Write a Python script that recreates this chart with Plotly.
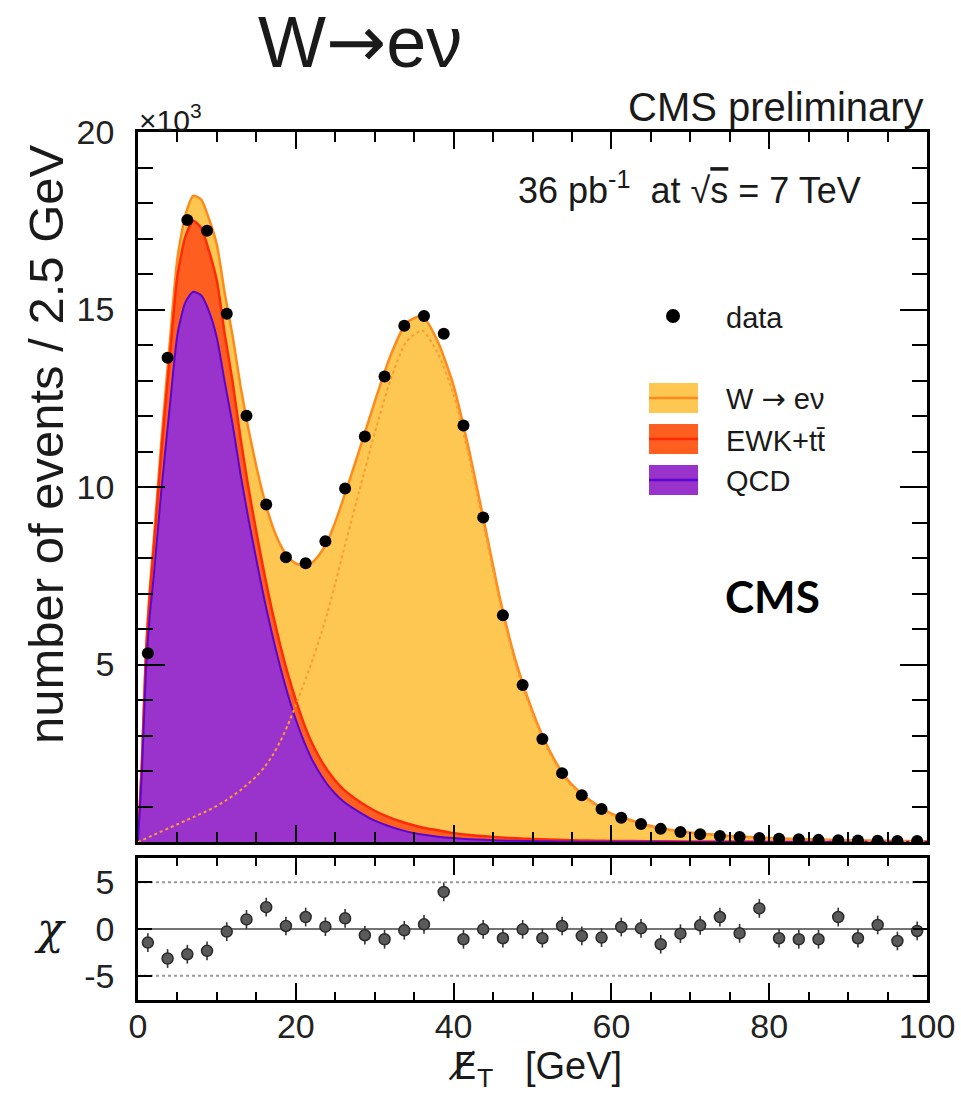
import plotly.graph_objects as go
import numpy as np

# ---------------- data (values in units of 10^3 events) ----------------
bin_centers = [1.25 + 2.5 * i for i in range(40)]
data_vals = [5.32, 13.64, 17.52, 17.22, 14.88, 12.01, 9.51, 8.02, 7.85, 8.47,
             9.96, 11.42, 13.11, 14.54, 14.82, 14.32, 11.73, 9.14, 6.39, 4.42,
             2.90, 1.94, 1.32, 0.93, 0.68, 0.51, 0.37, 0.28, 0.22, 0.17,
             0.14, 0.11, 0.09, 0.075, 0.06, 0.05, 0.04, 0.035, 0.03, 0.025]
chi_vals = [-1.45, -3.16, -2.7, -2.34, -0.28, 1.03, 2.34, 0.32, 1.28, 0.25,
            1.14, -0.67, -1.1, -0.14, 0.5, 3.97, -1.1, -0.04, -0.99, -0.04,
            -0.99, 0.32, -0.74, -0.92, 0.21, 0.07, -1.63, -0.5, 0.39, 1.28,
            -0.46, 2.2, -0.99, -1.1, -1.1, 1.28, -0.99, 0.43, -1.28, -0.21]

curve_x = [0, 0.5, 1, 1.5, 2, 3, 4, 5, 6, 7, 8, 9, 10, 11, 12, 13, 14, 15, 16, 17,
           18, 19, 20, 21, 22, 23, 24, 25, 26, 28, 30, 32, 34, 36, 38, 40, 42, 44,
           46, 48, 50, 52, 54, 56, 58, 60, 65, 70, 75, 80, 85, 90, 95, 100]
qcd = [0, 2.0, 4.8, 6.4, 7.5, 10.0, 12.2, 14.3, 15.2, 15.5, 15.4, 14.95, 14.2, 12.95,
       11.75, 10.35, 9.1, 7.95, 6.85, 5.85, 4.95, 4.15, 3.45, 2.85, 2.35, 1.95, 1.62,
       1.36, 1.15, 0.85, 0.6, 0.43, 0.3, 0.21, 0.15, 0.11, 0.08, 0.06, 0.045, 0.033,
       0.025, 0.018, 0.013, 0.01, 0.008, 0.006, 0.004, 0.003, 0.002, 0.0015, 0.001,
       0.001, 0.0008, 0.0005]
ewk = [0, 0.25, 0.45, 0.6, 0.8, 1.1, 1.4, 1.65, 1.85, 2.0, 1.9, 1.7, 1.6, 1.35, 1.2,
       1.02, 0.88, 0.78, 0.72, 0.66, 0.62, 0.58, 0.55, 0.5, 0.46, 0.43, 0.4, 0.37,
       0.34, 0.3, 0.28, 0.25, 0.23, 0.2, 0.18, 0.14, 0.12, 0.1, 0.085, 0.07, 0.06,
       0.05, 0.04, 0.035, 0.03, 0.025, 0.018, 0.013, 0.01, 0.008, 0.006, 0.005,
       0.004, 0.003]
wenu = [0, 0.05, 0.1, 0.15, 0.2, 0.3, 0.4, 0.5, 0.6, 0.7, 0.8, 0.9, 1.02, 1.15, 1.3,
        1.46, 1.65, 1.85, 2.1, 2.42, 2.82, 3.3, 3.85, 4.45, 5.05, 5.72, 6.45, 7.28,
        8.16, 9.85, 11.52, 13.02, 14.09, 14.41, 13.77, 12.6, 10.8, 8.71, 6.61, 4.9,
        3.6, 2.58, 1.83, 1.36, 1.03, 0.77, 0.43, 0.25, 0.16, 0.1, 0.068, 0.044, 0.03,
        0.021]

x_ticks = [0, 20, 40, 60, 80, 100]
y_ticks = [0, 5, 10, 15, 20]
y_ticktext = ["", "5", "10", "15", "20"]
chi_ticks = [-5, 0, 5]
chi_ticktext = ["-5", "0", "5"]

# ---------------- colours ----------------
C_W_FILL = "#FEC752"
C_W_LINE = "#FF8A1C"
C_E_FILL = "#FF5E21"
C_E_LINE = "#FF2B08"
C_Q_FILL = "#9933CC"
C_Q_LINE = "#5A06D0"

FONT = "Liberation Sans, Arial, Helvetica, sans-serif"
ARROW = "<span style='font-family:DejaVu Sans'>→</span>"

q = np.array(qcd)
qe = q + np.array(ewk)
tot = qe + np.array(wenu)

W, H = 961, 1098
def px(x):
    return x / W
def py(y):
    return 1 - y / H

xdom = [px(138), px(927)]

fig = go.Figure()
sp = dict(shape="spline", smoothing=0.6)
fig.add_trace(go.Scatter(x=curve_x, y=tot, mode="lines", fill="tozeroy",
                         fillcolor=C_W_FILL, line=dict(color=C_W_LINE, width=2.5, **sp),
                         xaxis="x", yaxis="y", hoverinfo="skip", showlegend=False))
fig.add_trace(go.Scatter(x=curve_x, y=qe, mode="lines", fill="tozeroy",
                         fillcolor=C_E_FILL, line=dict(color=C_E_LINE, width=2.5, **sp),
                         xaxis="x", yaxis="y", hoverinfo="skip", showlegend=False))
fig.add_trace(go.Scatter(x=curve_x, y=q, mode="lines", fill="tozeroy",
                         fillcolor=C_Q_FILL, line=dict(color=C_Q_LINE, width=2, **sp),
                         xaxis="x", yaxis="y", hoverinfo="skip", showlegend=False))
fig.add_trace(go.Scatter(x=curve_x, y=wenu, mode="lines",
                         line=dict(color="#FF9A30", width=2, dash="dot", **sp),
                         xaxis="x", yaxis="y", hoverinfo="skip", showlegend=False))
fig.add_trace(go.Scatter(x=bin_centers, y=data_vals, mode="markers",
                         marker=dict(color="black", size=12),
                         xaxis="x", yaxis="y", showlegend=False))

# chi panel
fig.add_trace(go.Scatter(x=bin_centers, y=chi_vals, mode="markers",
                         marker=dict(color="#5a5a5a", size=11, symbol="circle",
                                     line=dict(color="#2a2a2a", width=1.5)),
                         error_y=dict(type="constant", value=1, color="#333333",
                                      thickness=1.6, width=0),
                         xaxis="x2", yaxis="y2", showlegend=False))

axis_common = dict(showline=True, linecolor="black", linewidth=2.5, mirror="ticks",
                   ticks="inside", tickcolor="black", tickwidth=2,
                   showgrid=False, zeroline=False, automargin=False,
                   tickfont=dict(family=FONT, size=34, color="#222"))

fig.update_layout(
    width=W, height=H,
    margin=dict(l=0, r=0, t=0, b=0, autoexpand=False),
    paper_bgcolor="white", plot_bgcolor="white",
    showlegend=False,
    xaxis=dict(domain=xdom, range=[0, 100], anchor="y", tickvals=x_ticks,
               showticklabels=False, ticklen=17,
               minor=dict(dtick=5, tick0=0, ticklen=10, ticks="inside",
                          tickcolor="black", tickwidth=2, showgrid=False),
               **axis_common),
    yaxis=dict(domain=[py(842), py(132)], range=[0, 20], anchor="x",
               tickvals=y_ticks, ticktext=y_ticktext, ticklen=27,
               ticklabelstandoff=14,
               minor=dict(dtick=1, tick0=0, ticklen=15, ticks="inside",
                          tickcolor="black", tickwidth=2, showgrid=False),
               **axis_common),
    xaxis2=dict(domain=xdom, range=[0, 100], anchor="y2", tickvals=x_ticks,
                ticklen=17, ticklabelstandoff=-6,
                minor=dict(dtick=5, tick0=0, ticklen=8, ticks="inside",
                           tickcolor="black", tickwidth=2, showgrid=False),
                **axis_common),
    yaxis2=dict(domain=[py(1000), py(858)], range=[-7.6, 7.6], anchor="x2",
                tickvals=chi_ticks, ticktext=chi_ticktext, ticklen=14,
                ticklabelstandoff=14, **axis_common),
)

# reference lines in chi panel
for yv in (5, -5):
    fig.add_shape(type="line", xref="x2", yref="y2", x0=0, x1=100, y0=yv, y1=yv,
                  line=dict(color="#9a9a9a", width=2, dash="dot"), layer="below")
fig.add_shape(type="line", xref="x2", yref="y2", x0=0, x1=100, y0=0, y1=0,
              line=dict(color="#444444", width=1.6), layer="below")

# legend (drawn manually)
leg_x0, leg_x1 = px(649), px(698)
for (ytop, ybot, fc, lc) in [(383, 413, C_W_FILL, C_W_LINE),
                             (424, 454, C_E_FILL, C_E_LINE),
                             (465, 495, C_Q_FILL, C_Q_LINE)]:
    fig.add_shape(type="rect", xref="paper", yref="paper", x0=leg_x0, x1=leg_x1,
                  y0=py(ybot), y1=py(ytop), fillcolor=fc, line=dict(width=0))
    fig.add_shape(type="line", xref="paper", yref="paper", x0=leg_x0, x1=leg_x1,
                  y0=py((ytop + ybot) / 2), y1=py((ytop + ybot) / 2),
                  line=dict(color=lc, width=2.5))
fig.add_shape(type="circle", xref="paper", yref="paper", x0=px(666), x1=px(680),
              y0=py(323), y1=py(309), fillcolor="black", line=dict(width=0))

def ann(text, x, y, size, xanchor="center", yanchor="middle", textangle=0,
        family=FONT, color="#1a1a1a"):
    fig.add_annotation(text=text, x=x, y=y, xref="paper", yref="paper",
                       xanchor=xanchor, yanchor=yanchor, showarrow=False,
                       textangle=textangle, font=dict(family=family, size=size, color=color))

ann("data", px(724), py(318), 29, xanchor="left")
ann("W " + ARROW + " eν", px(724), py(399), 29, xanchor="left")
ann("EWK+tt\u0304", px(724), py(441), 29, xanchor="left")
ann("QCD", px(724), py(481), 29, xanchor="left")

ann("W" + ARROW + "eν", px(360), py(42), 72)
ann("CMS preliminary", px(926), py(107), 40, xanchor="right")
ann("×10<sup>3</sup>", px(137), py(118), 30, xanchor="left")
ann("36 pb<sup>-1</sup>  at √<span style='text-decoration:overline'>s</span> = 7 TeV",
    px(863), py(188), 36, xanchor="right")
ann("<b>CMS</b>", px(772), py(596), 44, family="Lato, Calibri, sans-serif", color="black")

ann("number of events / 2.5 GeV", px(46), py(444), 49, textangle=-90)
ann("<i>χ</i>", px(50), py(928), 44, family="DejaVu Serif, serif")
ann("<span style='font-family:DejaVu Sans'>E\u0338</span><sub>T</sub>   [GeV]",
    px(535), py(1068), 38)

fig.write_html("out.html")
